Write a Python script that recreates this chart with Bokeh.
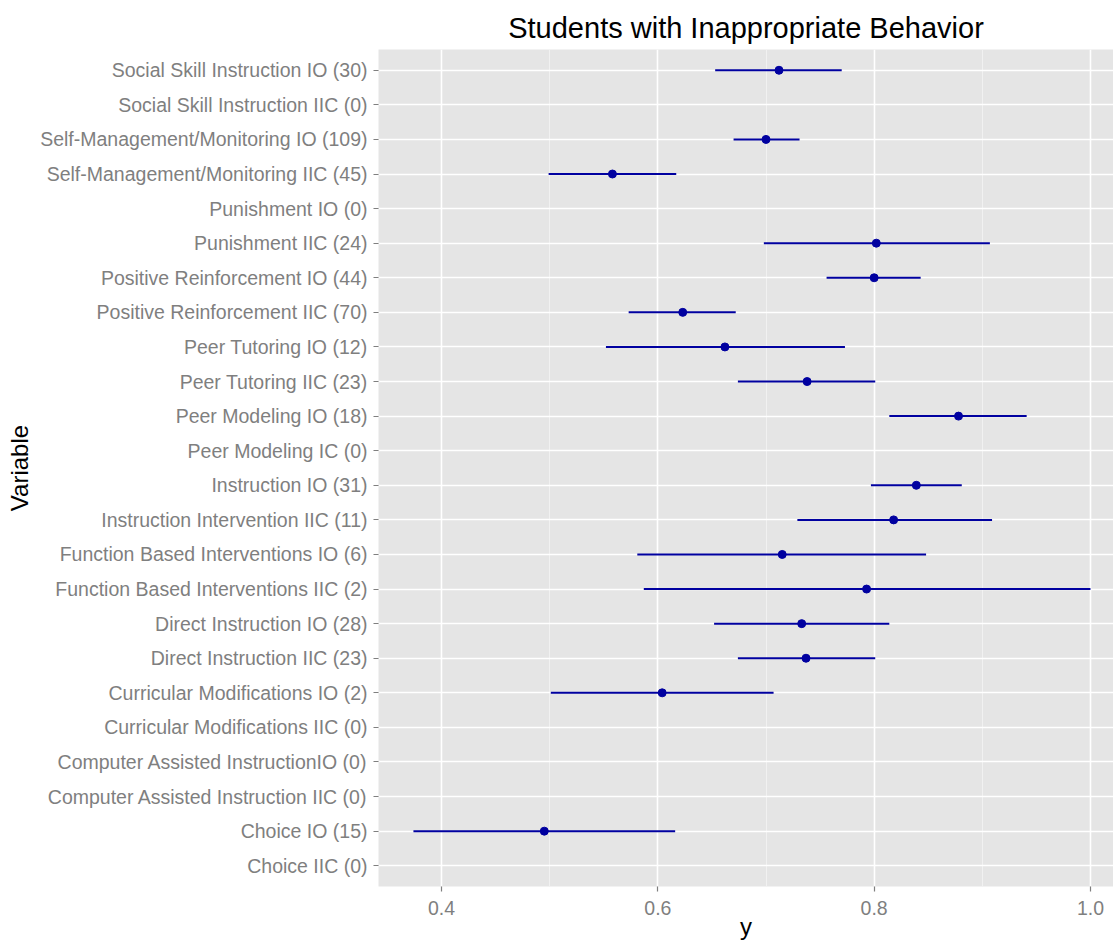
from bokeh.plotting import figure
from bokeh.models import FactorRange, FixedTicker, NumeralTickFormatter, ColumnDataSource, Range1d
from bokeh.embed import file_html
from bokeh.resources import INLINE

# Categories, top to bottom as in the reference
categories = [
    "Social Skill Instruction IO (30)",
    "Social Skill Instruction IIC (0)",
    "Self-Management/Monitoring IO (109)",
    "Self-Management/Monitoring IIC (45)",
    "Punishment IO (0)",
    "Punishment IIC (24)",
    "Positive Reinforcement IO (44)",
    "Positive Reinforcement IIC (70)",
    "Peer Tutoring IO (12)",
    "Peer Tutoring IIC (23)",
    "Peer Modeling IO (18)",
    "Peer Modeling IC (0)",
    "Instruction IO (31)",
    "Instruction Intervention IIC (11)",
    "Function Based Interventions IO (6)",
    "Function Based Interventions IIC (2)",
    "Direct Instruction IO (28)",
    "Direct Instruction IIC (23)",
    "Curricular Modifications IO (2)",
    "Curricular Modifications IIC (0)",
    "Computer Assisted InstructionIO (0)",
    "Computer Assisted Instruction IIC (0)",
    "Choice IO (15)",
    "Choice IIC (0)",
]
estimate = [0.712, None, 0.700, 0.558, None, 0.802, 0.800, 0.623, 0.662, 0.738,
            0.878, None, 0.839, 0.818, 0.715, 0.793, 0.733, 0.737, 0.604, None,
            None, None, 0.495, None]
lower = [0.653, None, 0.670, 0.499, None, 0.698, 0.756, 0.573, 0.552, 0.674,
         0.814, None, 0.797, 0.729, 0.581, 0.587, 0.652, 0.674, 0.501, None,
         None, None, 0.374, None]
upper = [0.770, None, 0.731, 0.617, None, 0.907, 0.843, 0.672, 0.773, 0.801,
         0.941, None, 0.881, 0.909, 0.848, 1.000, 0.814, 0.801, 0.707, None,
         None, None, 0.616, None]

x_ticks = [0.4, 0.6, 0.8, 1.0]
x_minor = [0.5, 0.7, 0.9]

rows = [(c, e, l, u) for c, e, l, u in zip(categories, estimate, lower, upper) if e is not None]
src = ColumnDataSource(dict(
    cat=[r[0] for r in rows],
    est=[r[1] for r in rows],
    lo=[r[2] for r in rows],
    hi=[r[3] for r in rows],
))

FONT = "Liberation Sans"
GREY = "#7F7F7F"

y_range = FactorRange(factors=list(reversed(categories)), range_padding=0.1,
                      range_padding_units="absolute")

p = figure(width=1113, height=945, y_range=y_range, x_range=Range1d(0.3417, 1.0213),
           output_backend="svg", toolbar_location=None,
           title="Students with Inappropriate Behavior",
           min_border_left=378, min_border_right=0, min_border_top=49, min_border_bottom=59)

p.background_fill_color = "#E5E5E5"
p.border_fill_color = "white"
p.outline_line_color = None

p.title.text_font = FONT
p.title.text_font_size = "29px"
p.title.text_font_style = "normal"
p.title.text_color = "black"
p.title.align = "center"
p.title.standoff = 11
p.title.offset = 5

# grids
p.xgrid.ticker = FixedTicker(ticks=x_ticks, minor_ticks=x_minor)
p.xgrid.grid_line_color = "white"
p.xgrid.grid_line_width = 1.6
p.xgrid.minor_grid_line_color = "#F2F2F2"
p.xgrid.minor_grid_line_width = 0.9
p.ygrid.grid_line_color = "white"
p.ygrid.grid_line_width = 1.6

# axes
p.xaxis.ticker = FixedTicker(ticks=x_ticks, minor_ticks=x_minor)
p.xaxis.formatter = NumeralTickFormatter(format="0.0")
for ax in (p.xaxis[0], p.yaxis[0]):
    ax.axis_line_color = None
    ax.major_tick_line_color = GREY
    ax.major_tick_line_width = 1.2
    ax.major_tick_out = 5
    ax.major_tick_in = 0
    ax.minor_tick_out = 0
    ax.minor_tick_in = 0
    ax.minor_tick_line_color = None
    ax.major_label_text_font = FONT
    ax.major_label_text_font_size = "19.5px"
    ax.major_label_text_color = GREY
    ax.axis_label_text_font = FONT
    ax.axis_label_text_font_size = "24px"
    ax.axis_label_text_font_style = "normal"
    ax.axis_label_text_color = "black"

p.xaxis.axis_label = "y"
p.xaxis.major_label_standoff = 9
p.xaxis.axis_label_standoff = -5
p.yaxis.axis_label = "Variable"
p.yaxis.major_label_standoff = 6
p.yaxis.axis_label_standoff = 4

# error bars and points
p.segment(x0="lo", x1="hi", y0="cat", y1="cat", source=src,
          line_color="#0000A0", line_width=2)
p.scatter(x="est", y="cat", source=src, size=8, fill_color="#0000A0",
          line_color="#0000A0")

open("out.html", "w").write(file_html(p, INLINE))
